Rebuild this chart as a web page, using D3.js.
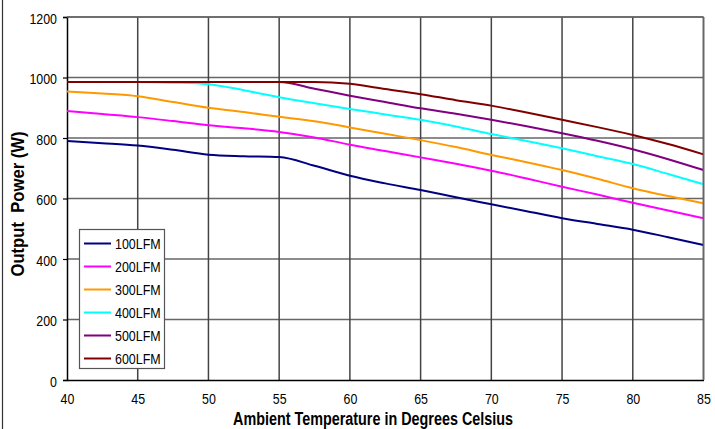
<!DOCTYPE html>
<html>
<head>
<meta charset="utf-8">
<script src="https://cdn.jsdelivr.net/npm/d3@7"></script>
<style>
  html, body { margin: 0; padding: 0; background: #fff; }
  svg { display: block; }
  text { font-family: "Liberation Sans", Arial, sans-serif; }
</style>
</head>
<body>
<svg id="chart" width="715" height="429"></svg>
<script>
// ---- data ----
const temps = [40, 42.5, 45, 47.5, 50, 52.5, 55, 57.5, 60, 62.5, 65, 67.5, 70, 72.5, 75, 77.5, 80, 82.5, 85];
const seriesNames = ["100LFM", "200LFM", "300LFM", "400LFM", "500LFM", "600LFM"];
const lfm100 = [790, 783, 775, 761, 745, 740, 737, 708, 675, 650, 628, 604, 581, 558, 535, 516, 497, 472, 446];
const lfm200 = [889, 879, 869, 856, 842, 832, 820, 802, 778, 757, 736, 715, 692, 666, 639, 613, 586, 560, 535];
const lfm300 = [954, 947, 938, 919, 900, 886, 870, 855, 835, 814, 793, 770, 744, 720, 694, 665, 634, 608, 584];
const lfm400 = [985, 985, 985, 983, 978, 958, 935, 915, 896, 878, 860, 838, 813, 790, 766, 740, 714, 681, 647];
const lfm500 = [985, 985, 985, 985, 985, 985, 985, 963, 940, 919, 898, 880, 860, 839, 816, 791, 763, 730, 694];
const lfm600 = [985, 985, 985, 985, 985, 985, 985, 985, 979, 962, 945, 925, 907, 884, 860, 836, 810, 780, 746];
const seriesValues = [lfm100, lfm200, lfm300, lfm400, lfm500, lfm600];
const seriesColors = ["#000080", "#ff00ff", "#ff9900", "#00ffff", "#800080", "#800000"];
const xTicks = [40, 45, 50, 55, 60, 65, 70, 75, 80, 85];
const yTicks = [0, 200, 400, 600, 800, 1000, 1200];
const xTitle = "Ambient Temperature in Degrees Celsius";
const yTitle = "Output\u00a0 Power (W)";

(function () {
// ---- layout ----
const svg = d3.select("#chart");
const pL = 67, pR = 703.5, pT = 17, pB = 380;

const x = d3.scaleLinear().domain([40, 85]).range([pL, pR]);
const y = d3.scaleLinear().domain([0, 1200]).range([pB, pT]);

// condense text horizontally (narrow-font look)
function narrow(sel, factor) {
  sel.each(function () {
    const w = this.getComputedTextLength();
    d3.select(this).attr("textLength", w * factor).attr("lengthAdjust", "spacingAndGlyphs");
  });
}

// frame line at left edge
svg.append("line").attr("x1", 2.5).attr("x2", 2.5).attr("y1", 0).attr("y2", 429)
  .attr("stroke", "#333").attr("stroke-width", 1.2);

// gridlines
const grid = svg.append("g");
grid.selectAll("line.h").data(yTicks.filter(d => d > 0)).join("line")
  .attr("x1", pL).attr("x2", pR)
  .attr("y1", d => y(d)).attr("y2", d => y(d))
  .attr("stroke", "#666").attr("stroke-width", 1.5);
grid.selectAll("line.v").data(xTicks.filter(d => d > 40)).join("line")
  .attr("x1", d => x(d)).attr("x2", d => x(d))
  .attr("y1", pT).attr("y2", pB)
  .attr("stroke", "#444").attr("stroke-width", 1.5);

// axes
const xAxis = d3.axisBottom(x).tickValues(xTicks).tickSize(0).tickPadding(12.5).tickFormat(d3.format("d"));
const yAxis = d3.axisLeft(y).tickValues(yTicks).tickSize(4).tickPadding(6).tickFormat(d3.format("d"));

const gx = svg.append("g").attr("transform", `translate(0,${pB})`).call(xAxis);
const gy = svg.append("g").attr("transform", `translate(${pL},0)`).call(yAxis);
[gx, gy].forEach(g => {
  g.attr("font-family", null);
  g.select(".domain").attr("stroke", "#000").attr("stroke-width", 1.5);
  g.selectAll(".tick line").attr("stroke", "#000").attr("stroke-width", 1.2);
  g.selectAll("text").attr("font-size", 15.5).attr("fill", "#000")
    .style("font-family", "'Liberation Sans', Arial, sans-serif");
  narrow(g.selectAll("text"), 0.8);
});
gy.selectAll("text").attr("dy", "0.4em");

// lines
const line = d3.line().x((d, i) => x(temps[i])).y(d => y(d)).curve(d3.curveMonotoneX);
svg.append("g").selectAll("path").data(seriesValues).join("path")
  .attr("d", d => line(d))
  .attr("fill", "none")
  .attr("stroke", (d, i) => seriesColors[i])
  .attr("stroke-width", 2);

// right & top plot border
svg.append("line").attr("x1", pR).attr("x2", pR).attr("y1", pT).attr("y2", pB)
  .attr("stroke", "#666").attr("stroke-width", 1.5);
svg.append("line").attr("x1", pL).attr("x2", pR).attr("y1", pT).attr("y2", pT)
  .attr("stroke", "#666").attr("stroke-width", 1.5);

// legend
const lg = svg.append("g");
lg.append("rect").attr("x", 79.5).attr("y", 229.5).attr("width", 85).attr("height", 139)
  .attr("fill", "#fff").attr("stroke", "#555").attr("stroke-width", 1.2);
const items = lg.selectAll("g.item").data(seriesNames).join("g")
  .attr("transform", (d, i) => `translate(0,${243.5 + i * 23})`);
items.append("line").attr("x1", 84).attr("x2", 111).attr("y1", 0).attr("y2", 0)
  .attr("stroke", (d, i) => seriesColors[i]).attr("stroke-width", 2);
const lt = items.append("text").attr("x", 115).attr("y", 5.5).attr("font-size", 15).attr("fill", "#000")
  .text(d => d);
narrow(lt, 0.83);

// titles
svg.append("text").attr("x", 373).attr("y", 425).attr("text-anchor", "middle")
  .attr("font-size", 17.5).attr("font-weight", "bold")
  .attr("textLength", 280).attr("lengthAdjust", "spacingAndGlyphs").text(xTitle);
svg.append("text").attr("transform", "translate(24,204) rotate(-90)").attr("text-anchor", "middle")
  .attr("font-size", 17.5).attr("font-weight", "bold")
  .attr("textLength", 145).attr("lengthAdjust", "spacingAndGlyphs").text(yTitle);
})();
</script>
</body>
</html>
